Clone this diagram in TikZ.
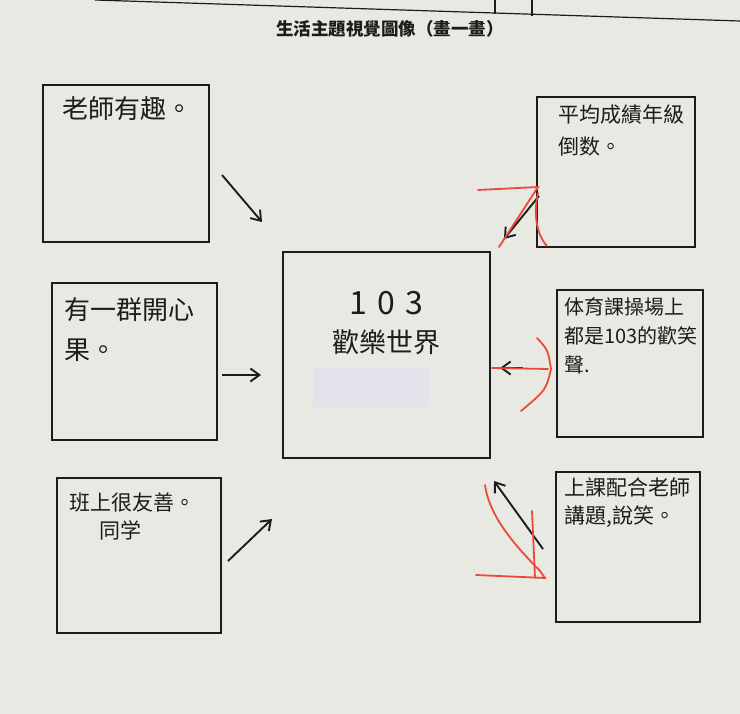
\documentclass[tikz,border=0pt]{standalone}
\usepackage{fontspec}
\newfontfamily\cjk{Noto Sans CJK TC}
\usepackage{tikz}
\usetikzlibrary{calc}
\usetikzlibrary{positioning}
\usetikzlibrary{arrows.meta}

\definecolor{paper}{RGB}{233,233,228}
\definecolor{ink}{RGB}{28,28,28}
\definecolor{redink}{RGB}{232,74,62}
\definecolor{patchgrey}{RGB}{226,226,234}

\begin{document}
\begin{tikzpicture}[x=1pt, y=-1pt, >={Straight Barb[length=9pt, width=13pt]},  % one unit = one pixel
	card/.style={draw=ink, line width=1.9pt, inner sep=0pt},                    % hand drawn box
	words/.style={font=\cjk\fontsize{21}{28}\selectfont, align=left,
	              inner sep=0pt, text=ink},                                     % text in a box
	pen/.style={->, draw=ink, line width=1.9pt},                                % black arrow
	redpen/.style={draw=redink, line width=1.8pt, line cap=round}]              % red marks
	\fill[paper] (0,0) rectangle (740,714);
	\useasboundingbox (0,0) rectangle (740,714);

	% table edge at the top of the sheet
	\draw[ink, line width=1.2pt] (95,0) -- (740,21);
	\draw[ink, line width=1.2pt] (495,0) -- (495,14);
	\draw[ink, line width=1.2pt] (532,0) -- (532,16);
	\node[font=\cjk\bfseries\fontsize{17.5}{17.5}\selectfont, text=ink] (title) at (390,29)
		{生活主題視覺圖像（畫一畫）};

	% boxes
	\node[card, minimum width=166pt, minimum height=157pt] (tl) at (126,163.5) {};
	\node[card, minimum width=165pt, minimum height=157pt] (ml) at (134.5,361.5) {};
	\node[card, minimum width=164pt, minimum height=155pt] (bl) at (139,555.5) {};
	\node[card, minimum width=207pt, minimum height=206pt] (hub) at (386.5,355) {};
	\node[card, minimum width=158pt, minimum height=150pt] (tr) at (616,172) {};
	\node[card, minimum width=146pt, minimum height=147pt] (mr) at (630,363.5) {};
	\node[card, minimum width=144pt, minimum height=150pt] (br) at (628,547) {};

	% texts
	\node[words, font=\cjk\fontsize{26}{34}\selectfont, below right=12pt and 20pt of tl.north west] (tlt) {老師有趣。};
	\node[words, font=\cjk\fontsize{26}{40}\selectfont, below right=15pt and 13pt of ml.north west] (mlt) {有一群開心\\果。};
	\node[words, below right=16pt and 13pt of bl.north west] (blt) {班上很友善。\\\hspace*{30pt}同学};
	\node[words, font=\cjk\fontsize{32}{32}\selectfont, below=40pt of hub.north] (num) {1\hspace{10pt}0\hspace{10pt}3};
	\node[words, font=\cjk\fontsize{27}{27}\selectfont, below=14pt of num] (name) {歡樂世界};
	\node[fill=patchgrey, minimum width=116pt, minimum height=40pt, inner sep=0pt,
	      below=12pt of name, xshift=-16pt] (patch) {};
	\node[words, font=\cjk\fontsize{21}{32}\selectfont, below right=9pt and 22pt of tr.north west] (trt) {平均成績年級\\倒数。};
	\node[words, font=\cjk\fontsize{20}{29}\selectfont, below right=8pt and 8pt of mr.north west] (mrt) {体育課操場上\\都是103的歡笑\\聲.};
	\node[words, below right=7pt and 9pt of br.north west] (brt) {上課配合老師\\講題,說笑。};

	% arrows
	\coordinate (tla) at (222,175);  \coordinate (tlb) at (262,222);
	\coordinate (mla) at (222,375);  \coordinate (mlb) at (261,375);
	\coordinate (bla) at (228,561);  \coordinate (blb) at (272,519);
	\coordinate (tra) at (539,196);  \coordinate (trb) at (504,239);
	\coordinate (mra) at (523,368);  \coordinate (mrb) at (500,368);
	\coordinate (bra) at (543,549);  \coordinate (brb) at (494,481);
	\draw[pen] (tla) -- (tlb);
	\draw[pen] (mla) -- (mlb);
	\draw[pen] (bla) -- (blb);
	\draw[pen] (tra) -- (trb);
	\draw[pen] (mra) -- (mrb);
	\draw[pen] (bra) -- (brb);

	% red marks
	\draw[redpen] (478,190) -- (538,187) -- (499,247);
	\draw[redpen] (538,193) .. controls (533,215) and (537,235) .. (547,246);
	\draw[redpen] (492,368) -- (548,369);
	\draw[redpen] (537,338) .. controls (548,350) .. (551,369) .. controls (546,390) .. (521,411);
	\draw[redpen] (485,485) .. controls (490,520) and (520,550) .. (540,571) -- (545,578) -- (476,575);
	\draw[redpen] (532,511) -- (535,578);
\end{tikzpicture}
\end{document}
